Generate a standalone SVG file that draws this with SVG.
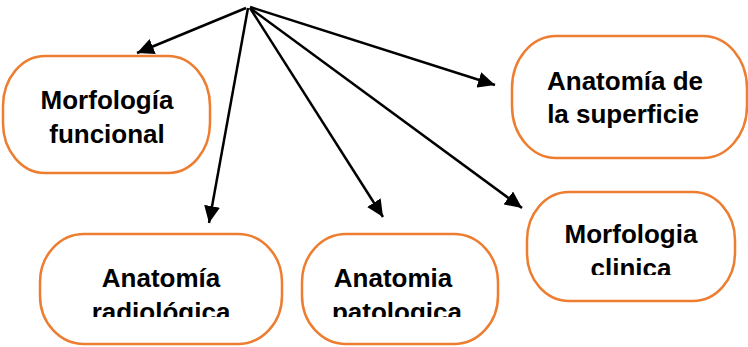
<svg xmlns="http://www.w3.org/2000/svg" width="748" height="347" viewBox="0 0 748 347">
<style>
.box{fill:#fff;stroke:#ED7D31;stroke-width:2.5}
.t{font-family:"Liberation Sans",Arial,sans-serif;font-weight:bold;font-size:26px;fill:#000;text-anchor:middle}
.c{stroke:#000;stroke-width:2.5;fill:none;marker-end:url(#ah)}
</style>
<defs>
<marker id="ah" markerUnits="userSpaceOnUse" markerWidth="20" markerHeight="16" refX="17" refY="8" orient="auto">
<path d="M0,0 L17,8 L0,16 Z" fill="#000"/>
</marker>
<clipPath id="clipA"><rect x="0" y="0" width="748" height="317"/></clipPath>
<clipPath id="clipB"><rect x="0" y="0" width="748" height="275"/></clipPath>
</defs>
<rect width="748" height="347" fill="#fff"/>
<g id="connectors">
<line class="c" x1="246" y1="8" x2="137" y2="53"/>
<line class="c" x1="248" y1="8" x2="209" y2="223"/>
<line class="c" x1="250" y1="8" x2="383" y2="217"/>
<line class="c" x1="250" y1="7" x2="495" y2="85"/>
<line class="c" x1="250" y1="8" x2="522" y2="208"/>
</g>
<g id="morfologia-funcional">
<rect class="box" x="3" y="56" width="207" height="117" rx="42" ry="50"/>
<text class="t" x="107" y="109">Morfología</text>
<text class="t" x="107" y="143">funcional</text>
</g>
<g id="anatomia-superficie">
<rect class="box" x="512" y="36" width="235" height="122" rx="44" ry="52"/>
<text class="t" x="625" y="90">Anatomía de</text>
<text class="t" x="623" y="123">la superficie</text>
</g>
<g id="anatomia-radiologica">
<rect class="box" x="40" y="234" width="242" height="110" rx="44" ry="48"/>
<g clip-path="url(#clipA)">
<text class="t" x="161" y="287">Anatomía</text>
<text class="t" x="161" y="321">radiológica</text>
</g>
</g>
<g id="anatomia-patologica">
<rect class="box" x="302" y="234" width="196" height="110" rx="44" ry="48"/>
<g clip-path="url(#clipA)">
<text class="t" x="393" y="287">Anatomia</text>
<text class="t" x="397" y="321">patologica</text>
</g>
</g>
<g id="morfologia-clinica">
<rect class="box" x="527" y="192" width="208" height="109" rx="42" ry="48"/>
<g clip-path="url(#clipB)">
<text class="t" x="631" y="243">Morfologia</text>
<text class="t" x="631" y="277">clinica</text>
</g>
</g>
</svg>
